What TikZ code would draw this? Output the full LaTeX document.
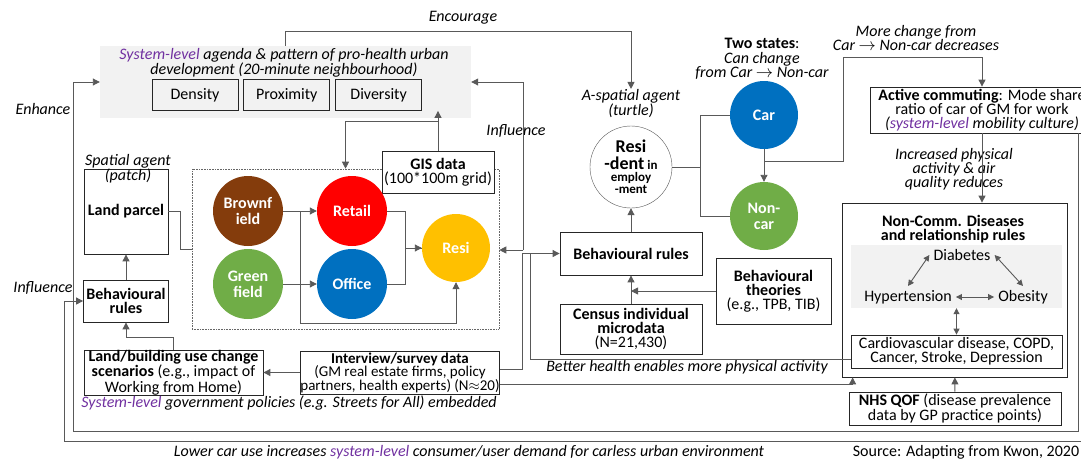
\documentclass[tikz,border=0pt]{standalone}
\usepackage{fontspec}
\setmainfont{Carlito}
\usepackage{xcolor}
\usepackage{tikz}
\usetikzlibrary{arrows.meta, positioning, calc}
\definecolor{purp}{HTML}{7030A0}
\definecolor{brownc}{HTML}{843C0C}
\definecolor{redc}{HTML}{FF0000}
\definecolor{greenc}{HTML}{70AD47}
\definecolor{bluec}{HTML}{0070C0}
\definecolor{yellc}{HTML}{FFC000}
\definecolor{grayf}{HTML}{F2F2F2}
\newcommand{\bodyfs}{\fontsize{16}{14}\selectfont}
\newcommand{\syslv}[1]{\textcolor{purp}{#1}}

\begin{document}
\begin{tikzpicture}[x=1pt, y=-1pt,
  box/.style={draw=black!85, line width=0.8pt, inner sep=0pt, align=center, font=\bodyfs},
  lbl/.style={inner sep=0pt, align=center, font=\bodyfs\itshape},
  ln/.style={draw=black!65, line width=0.9pt},
  arr/.style={ln, -{Triangle[length=7pt, width=7pt]}},
  darr/.style={ln, {Triangle[length=6pt, width=6pt]}-{Triangle[length=6pt, width=6pt]}},
  disc/.style={circle, inner sep=0pt, minimum size=70pt, text=white, align=center, font=\fontsize{16}{16}\selectfont\bfseries},
]
\useasboundingbox (0,0) rectangle (1081,459);

% agenda
\node[fill=grayf, minimum width=371pt, minimum height=72pt, inner sep=0pt] (agenda) at (285.5,82) {};
\node[lbl] (agtxt) at (284,63) {\syslv{System-level} agenda \& pattern of pro-health urban\\development (20-minute neighbourhood)};
\node[box, minimum width=86pt, minimum height=31pt] (dens) at (195,95) {Density};
\node[box, minimum width=86pt, minimum height=31pt, right=5pt of dens] (prox) {Proximity};
\node[box, minimum width=86pt, minimum height=31pt, right=5pt of prox] (divr) {Diversity};

\node[lbl] (enc) at (463,18) {Encourage};
\node[lbl] (turtle) at (631,103.5) {A-spatial agent\\(turtle)};
\draw[arr] (agenda.north) -- ++(0,-14) -| (turtle.north);
\node[lbl] (enh) at (43,109) {Enhance};

% land side
\node[box, minimum width=84pt, minimum height=85pt, font=\bodyfs\bfseries] (lp) at (126,211.5) {Land parcel};
\node[lbl] (patch) at (128,169) {Spatial agent\\(patch)};
\node[box, minimum width=85pt, minimum height=42pt, font=\bodyfs\bfseries] (lbr) at (126,301) {Behavioural\\rules};
\node[box, minimum width=179pt, minimum height=41pt] (lb) at (173.5,372.5) {\textbf{Land/building use change}\\\textbf{scenarios} (e.g., impact of\\Working from Home)};
\node[box, minimum width=198pt, minimum height=43pt, font=\fontsize{15}{13.5}\selectfont] (iv) at (400,372.5) {\textbf{Interview/survey data}\\(GM real estate firms, policy\\partners, health experts) (N$\approx$20)};
\node[lbl] (sgp) at (289,403) {\syslv{System-level} government policies (e.g. Streets for All) embedded};
\node[lbl] (infl) at (43,288) {Influence};

% patches
\node[draw=black!60, densely dotted, line width=0.6pt, minimum width=307pt, minimum height=160pt] (area) at (345.5,249) {};
\node[box, fill=white, minimum width=112pt, minimum height=42pt] (gis) at (438,172) {\textbf{GIS data}\\(100*100m grid)};
\node[disc, fill=brownc] (bf) at (248,211) {Brownf\\ield};
\node[disc, fill=redc] (rt) at (352,211) {Retail};
\node[disc, fill=greenc] (gf) at (248,284) {Green\\field};
\node[disc, fill=bluec] (of) at (352,284) {Office};
\node[disc, fill=yellc, minimum size=68pt] (rs) at (456,248) {Resi};

\draw[ln] (lp.east) -- ++(12,0) |- (area.west);
\draw[arr] (gis.north) -- (gis.north |- divr.south);
\draw[arr] ($(gis.north)+(0,-29)$) -| (area.north);
\draw[arr] (bf) -- (rt);
\draw[arr] (gf) -- (of);
\draw[arr] ($(bf.east)+(17,0)$) |- ($(rs.south)+(0,41)$) -- (rs.south);
\draw[arr] (rt.east) -- ++(18,0) |- (rs.west);
\draw[ln] (of.east) -- ++(18,0) |- (rs.west);
\draw[arr] (lbr) -- (lp);
\draw[arr] (lb.north) |- ($(lbr.south)+(0,15)$) -- (lbr.south);
\draw[arr] (iv) -- (lb);

% resident agent
\node[circle, draw=black!65, fill=white, minimum size=82pt, inner sep=0pt, align=center, font=\bfseries\fontsize{13}{12}\selectfont] (res) at (631,167) {{\fontsize{18}{16}\selectfont Resi}\\[3pt]{\fontsize{18}{16}\selectfont -dent} in\\employ\\-ment};
\node[disc, fill=bluec, minimum size=68pt] (car) at (764,115) {Car};
\node[disc, fill=greenc, minimum size=68pt] (ncar) at (764,216) {Non-\\car};
\node[lbl, font=\fontsize{16}{14.5}\selectfont\itshape] (two) at (762,59) {{\upshape\textbf{Two states}:}\\Can change\\from Car $\rightarrow$ Non-car};
\node[lbl, font=\fontsize{16}{14.5}\selectfont\itshape] (more) at (916,38) {More change from\\Car $\rightarrow$ Non-car decreases};
\node[box, minimum width=142pt, minimum height=43pt, font=\bodyfs\bfseries] (rules) at (631,253.5) {Behavioural rules};
\node[box, minimum width=142pt, minimum height=50pt] (census) at (631,329) {\textbf{Census individual}\\\textbf{microdata}\\(N=21,430)};
\node[box, minimum width=115pt, minimum height=66pt] (theo) at (773.5,291) {\textbf{Behavioural}\\\textbf{theories}\\(e.g., TPB, TIB)};

\draw[ln] (res.east) -- ++(28,0) coordinate (fork);
\draw[ln] (car.west) -| (fork) |- (ncar.west);
\draw[arr] (car) -- (ncar);
\draw[arr] (rules) -- (res);
\draw[arr] (census) -- (rules);
\draw[arr] (theo.west) -- (theo.west -| census.north);

% health side
\node[box, minimum width=224pt, minimum height=46pt] (acom) at (982,110) {\textbf{Active commuting}: Mode share\\ratio of car of GM for work\\\textit{(\syslv{system-level} mobility culture)}};
\node[box, minimum width=225pt, minimum height=174pt] (ncd) at (954.5,290) {};
\node[font=\bodyfs\bfseries, align=center, inner sep=0pt] (ncdt) at (953,229) {Non-Comm. Diseases\\and relationship rules};
\node[fill=grayf, minimum width=211pt, minimum height=63pt, inner sep=0pt] (grp) at (956.5,276.5) {};
\node[font=\bodyfs, inner sep=4pt] (dia) at (962,255) {Diabetes};
\node[font=\bodyfs, inner sep=4pt] (hyp) at (908,297) {Hypertension};
\node[font=\bodyfs, inner sep=4pt] (obe) at (1023,297) {Obesity};
\node[box, minimum width=211pt, minimum height=33pt] (cvd) at (956.5,351.5) {Cardiovascular disease, COPD,\\Cancer, Stroke, Depression};
\node[box, minimum width=212pt, minimum height=33pt] (nhs) at (955,408.5) {\textbf{NHS QOF} (disease prevalence\\data by GP practice points)};
\node[lbl] (incr) at (954,169) {Increased physical\\activity \& air\\quality reduces};
\node[lbl] (bh) at (687,367) {Better health enables more physical activity};

\draw[darr] (dia.west) -- (hyp.north);
\draw[darr] (dia.east) -- (obe.north);
\draw[darr] (hyp) -- (obe);
\draw[darr] (grp.south) -- (cvd.north);
\draw[arr] (nhs) -- (ncd);
\draw[arr] (acom.south) -- (acom.south |- ncd.north);
\draw[arr] ($(car.south)+(0,12)$) -| (843,57) -| (acom.north);

% feedback loops
\coordinate (hub) at (523,250);
\node[lbl] (infr) at (516,131) {Influence};
\draw[arr] (hub) |- (agenda.east);
\draw[arr] (hub) -- (area.east |- hub);
\draw[arr] ($(iv.east)+(0,-3)$) -| ($(rules.west)+(-37,0)$) -- (rules.west);
\draw[ln] ($(cvd.west)+(0,8)$) -| ($(rules.west)+(-29,0)$);
\draw[arr] ($(iv.east)+(0,12)$) -| ($(ncd.south west)+(11,0)$);
\draw[arr] ($(acom.south east)+(-16,0)$) |- (73,431) |- (agenda.west);
\coordinate (rim) at (1090,441);
\draw[arr] (rim) -| ($(lbr.west)+(-19,0)$) -- (lbr.west);

\node[lbl] (lower) at (469,452) {Lower car use increases \syslv{system-level} consumer/user demand for carless urban environment};
\node[font=\bodyfs, inner sep=0pt] (src) at (966,452) {Source: Adapting from Kwon, 2020};
\end{tikzpicture}
\end{document}
